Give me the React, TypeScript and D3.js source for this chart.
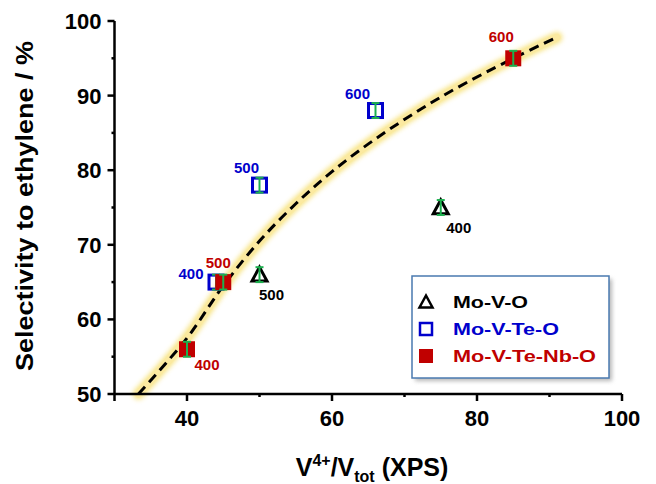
import React from "react";
import * as d3 from "d3";

const xTicks = [30, 40, 50, 60, 70, 80, 90, 100];
const xTickLabels = ["", "40", "", "60", "", "80", "", "100"];
const yTicks = [50, 55, 60, 65, 70, 75, 80, 85, 90, 95, 100];
const yTickLabels = ["50", "", "60", "", "70", "", "80", "", "90", "", "100"];

const seriesNames = ["Mo-V-O", "Mo-V-Te-O", "Mo-V-Te-Nb-O"];
const seriesColors = ["#000000", "#0000cc", "#c00000"];

// Mo-V-O
const moVO_x = [50, 75];
const moVO_y = [66, 75];
const moVO_lbl = ["500", "400"];
// Mo-V-Te-O
const moVTeO_x = [44, 50, 66];
const moVTeO_y = [65, 78, 88];
const moVTeO_lbl = ["400", "500", "600"];
// Mo-V-Te-Nb-O
const moVTeNbO_x = [40, 45, 85];
const moVTeNbO_y = [56, 65, 95];
const moVTeNbO_lbl = ["400", "500", "600"];

const errBar = 1.0;

// trend curve
const curveX = [33.3, 40, 45, 50, 55, 60, 66, 75, 85, 91];
const curveY = [50, 57.5, 64.5, 70.5, 75.5, 79.8, 84.2, 89.8, 95, 97.8];

const W = 656;
const H = 484;

export default function App() {
  const x = d3.scaleLinear().domain([30, 100]).range([114.5, 622]);
  const y = d3.scaleLinear().domain([50, 100]).range([394, 21]);

  const line = d3
    .line<number>()
    .x((_, i) => x(curveX[i]))
    .y((d) => y(d))
    .curve(d3.curveCatmullRom.alpha(0.5));
  const path = line(curveY) || "";

  const font = "'Liberation Sans', Arial, sans-serif";

  const labelOffsets: Record<string, [number, number][]> = {
    a: [
      [12, 25],
      [18, 25],
    ],
    b: [
      [-25, -3],
      [-13, -12],
      [-18, -12],
    ],
    c: [
      [20, 21],
      [-5, -14],
      [-12, -16],
    ],
  };

  const errorBar = (cx: number, cy: number, key: string) => (
    <g key={key} stroke="#1db04f" strokeWidth={2}>
      <line x1={cx} x2={cx} y1={y(cy + errBar)} y2={y(cy - errBar)} />
      <line x1={cx - 4} x2={cx + 4} y1={y(cy + errBar)} y2={y(cy + errBar)} />
      <line x1={cx - 4} x2={cx + 4} y1={y(cy - errBar)} y2={y(cy - errBar)} />
    </g>
  );

  const tri = (cx: number, cy: number, s: number, sw: number, key: string) => (
    <path
      key={key}
      d={`M${cx},${cy - s * 0.5} L${cx + s * 0.5},${cy + s * 0.42} L${cx - s * 0.5},${cy + s * 0.42} Z`}
      fill="none"
      stroke="#000"
      strokeWidth={sw}
      strokeLinejoin="miter"
    />
  );

  return (
    <svg width={W} height={H} style={{ position: "absolute", left: 0, top: 0 }}>
      <defs>
        <filter id="glow" x="-10%" y="-10%" width="120%" height="120%">
          <feGaussianBlur stdDeviation="2.5" />
        </filter>
        <filter id="shadow" x="-10%" y="-10%" width="130%" height="130%">
          <feGaussianBlur stdDeviation="2" />
        </filter>
      </defs>
      <rect width={W} height={H} fill="#fff" />

      {/* trend curve */}
      <path d={path} fill="none" stroke="#f7e27a" strokeWidth={11} strokeLinecap="round" filter="url(#glow)" opacity={0.95} />
      <path d={path} fill="none" stroke="#fbe9a0" strokeWidth={7} strokeLinecap="round" />
      <path d={path} fill="none" stroke="#000" strokeWidth={3} strokeDasharray="10,6" />

      {/* axes */}
      <g fontFamily={font} fontWeight="bold" fontSize={22} fill="#000">
        <line x1={x(30)} x2={x(100)} y1={y(50)} y2={y(50)} stroke="#000" strokeWidth={2.5} />
        <line x1={x(30)} x2={x(30)} y1={y(50)} y2={y(100)} stroke="#000" strokeWidth={2.5} />
        {xTicks.map((t, i) => (
          <g key={"xt" + t}>
            <line
              x1={x(t)}
              x2={x(t)}
              y1={y(50)}
              y2={y(50) + (xTickLabels[i] || t === 30 ? 7 : 3)}
              stroke="#000"
              strokeWidth={2.5}
            />
            {xTickLabels[i] && (
              <text x={x(t)} y={y(50) + 32} textAnchor="middle">
                {xTickLabels[i]}
              </text>
            )}
          </g>
        ))}
        {yTicks.map((t, i) => (
          <g key={"yt" + t}>
            <line
              x1={x(30)}
              x2={x(30) - (yTickLabels[i] ? 7 : 3)}
              y1={y(t)}
              y2={y(t)}
              stroke="#000"
              strokeWidth={2.5}
            />
            {yTickLabels[i] && (
              <text x={x(30) - 13} y={y(t) + 8} textAnchor="end">
                {yTickLabels[i]}
              </text>
            )}
          </g>
        ))}
        <text
          transform={`translate(33,206) rotate(-90)`}
          textAnchor="middle"
          fontSize={24}
          textLength={330}
          lengthAdjust="spacingAndGlyphs"
        >
          Selectivity to ethylene / %
        </text>
        <text x={372} y={476} textAnchor="middle" fontSize={25}>
          V<tspan fontSize={16} dy={-10}>4+</tspan>
          <tspan dy={10}>/V</tspan>
          <tspan fontSize={16} dy={6}>tot</tspan>
          <tspan dy={-6}> (XPS)</tspan>
        </text>
      </g>

      {/* Mo-V-Te-O open squares */}
      {moVTeO_x.map((v, i) => (
        <g key={"b" + i}>
          <rect x={x(v) - 7} y={y(moVTeO_y[i]) - 7} width={14} height={14} fill="none" stroke={seriesColors[1]} strokeWidth={3} />
          {errorBar(x(v), moVTeO_y[i], "be" + i)}
        </g>
      ))}
      {/* Mo-V-Te-Nb-O filled squares */}
      {moVTeNbO_x.map((v, i) => (
        <g key={"c" + i}>
          <rect x={x(v) - 8} y={y(moVTeNbO_y[i]) - 8} width={16} height={16} fill={seriesColors[2]} />
          {errorBar(x(v), moVTeNbO_y[i], "ce" + i)}
        </g>
      ))}
      {/* Mo-V-O triangles */}
      {moVO_x.map((v, i) => (
        <g key={"a" + i}>
          {tri(x(v), y(moVO_y[i]), 15, 3, "at" + i)}
          {errorBar(x(v), moVO_y[i], "ae" + i)}
        </g>
      ))}

      {/* point labels */}
      <g fontFamily={font} fontWeight="bold" fontSize={15} textAnchor="middle">
        {moVO_x.map((v, i) => (
          <text key={"la" + i} x={x(v) + labelOffsets.a[i][0]} y={y(moVO_y[i]) + labelOffsets.a[i][1]} fill={seriesColors[0]}>
            {moVO_lbl[i]}
          </text>
        ))}
        {moVTeO_x.map((v, i) => (
          <text key={"lb" + i} x={x(v) + labelOffsets.b[i][0]} y={y(moVTeO_y[i]) + labelOffsets.b[i][1]} fill={seriesColors[1]}>
            {moVTeO_lbl[i]}
          </text>
        ))}
        {moVTeNbO_x.map((v, i) => (
          <text key={"lc" + i} x={x(v) + labelOffsets.c[i][0]} y={y(moVTeNbO_y[i]) + labelOffsets.c[i][1]} fill={seriesColors[2]}>
            {moVTeNbO_lbl[i]}
          </text>
        ))}
      </g>

      {/* legend */}
      <g>
        <rect x={415} y={279} width={197} height={102} fill="#888" opacity={0.6} filter="url(#shadow)" />
        <rect x={412} y={276} width={197} height={102} fill="#fff" stroke="#4a7ab0" strokeWidth={1.5} />
        <g fontFamily={font} fontWeight="bold" fontSize={17}>
          {tri(426, 302, 13, 2.5, "lt")}
          <text x={453} y={308} fill={seriesColors[0]} textLength={75} lengthAdjust="spacingAndGlyphs">{seriesNames[0]}</text>
          <rect x={420} y={323} width={12} height={12} fill="none" stroke={seriesColors[1]} strokeWidth={2.5} />
          <text x={453} y={335} fill={seriesColors[1]} textLength={106} lengthAdjust="spacingAndGlyphs">{seriesNames[1]}</text>
          <rect x={419} y={349} width={14} height={14} fill={seriesColors[2]} />
          <text x={453} y={362} fill={seriesColors[2]} textLength={143} lengthAdjust="spacingAndGlyphs">{seriesNames[2]}</text>
        </g>
      </g>
    </svg>
  );
}
